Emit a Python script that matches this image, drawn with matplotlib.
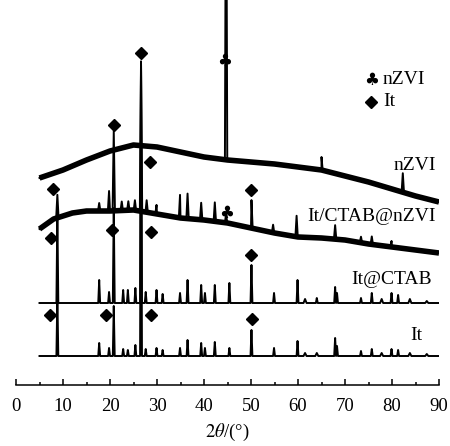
import numpy as np
import matplotlib
matplotlib.use("Agg")
import matplotlib.pyplot as plt

plt.rcParams['font.family'] = ['Liberation Serif', 'DejaVu Sans']
plt.rcParams['mathtext.fontset'] = 'stix'

###########################################################
# data (intensity in arbitrary units, traces offset)

# It
it_bg_x = [5, 90]
it_bg_y = [29, 29]
it_pk_x = [8.8, 17.7, 19.8, 20.8, 22.8, 23.8, 25.4, 26.6, 27.6, 29.9, 31.2, 34.9,
           36.5, 39.4, 40.2, 42.3, 45.4, 50.1, 54.9, 59.9, 61.5, 64.0, 67.9, 68.3,
           73.4, 75.7, 77.8, 79.9, 81.3, 83.8, 87.4]
it_pk_h = [60, 13, 8, 50, 7, 6, 11, 294, 7, 8, 6, 8,
           16, 13, 8, 14, 8, 26, 8, 15, 3, 3, 18, 10,
           5, 7, 3, 7, 6, 3, 2]

# It@CTAB
ctab_bg_x = [5, 90]
ctab_bg_y = [82, 82]
ctab_pk_x = it_pk_x
ctab_pk_h = [90, 23, 11, 95, 13, 13, 15, 241, 11, 13, 9, 10,
             23, 18, 10, 18, 20, 38, 10, 23, 4, 5, 16, 10,
             5, 10, 4, 10, 8, 4, 2]

# It/CTAB@nZVI
mix_bg_x = [5, 8, 12, 15, 20, 25, 30, 35, 40, 45, 50, 55, 60, 65, 70, 75, 80, 85, 90]
mix_bg_y = [156, 166, 172, 174, 174, 175, 171, 167, 165, 162, 157, 152, 148, 147, 145,
            141, 138, 135, 132]
mix_pk_x = [8.8, 17.7, 19.8, 20.8, 22.5, 23.9, 25.3, 26.6, 27.8, 29.9, 34.9, 36.5,
            39.4, 42.3, 44.7, 50.1, 54.7, 59.7, 67.9, 73.4, 75.7, 79.9]
mix_pk_h = [23, 8, 20, 80, 9, 9, 10, 150, 12, 9, 23, 25,
            17, 19, 9, 28, 8, 21, 14, 6, 8, 6]

# nZVI
fe_bg_x = [5, 10, 15, 20, 25, 30, 35, 40, 45, 50, 55, 60, 65, 70, 75, 80, 85, 90]
fe_bg_y = [207, 215, 225, 234, 240, 238, 233, 228, 225, 223, 221, 218, 215, 209,
           203, 196, 189, 183]
fe_pk_x = [44.7, 65.0, 82.3]
fe_pk_h = [360, 13, 19]

# marker positions
it_dia_x = [7.2, 19.1, 28.7, 50.2]
it_dia_y = [70, 70, 70, 66]
ctab_dia_x = [7.4, 20.4, 28.7, 50.1]
ctab_dia_y = [147, 155, 153, 130]
mix_dia_x = [7.9, 20.8, 26.6, 28.5, 50.1]
mix_dia_y = [196, 260, 332, 223, 195]
mix_club_x = [44.8]
mix_club_y = [172]
fe_club_x = [44.3]
fe_club_y = [324]

xticks = [0, 10, 20, 30, 40, 50, 60, 70, 80, 90]
##########################################################


def trace(bg_x, bg_y, pk_x, pk_h, width=0.25):
    # background polyline with triangular peaks sitting on it
    xs = list(bg_x)
    ys = list(bg_y)
    for p, h in zip(pk_x, pk_h):
        w = width if h > 4 else width * 1.6
        for dx, dh in [(-w, 0), (0, h), (w, 0)]:
            xs.append(p + dx)
            ys.append(np.interp(p + dx, bg_x, bg_y) + dh)
    order = np.argsort(xs, kind="stable")
    return np.array(xs)[order], np.array(ys)[order]


fig = plt.figure(figsize=(4.5, 4.46), dpi=100)
ax = fig.add_axes([16 / 450, 1 - 385 / 446, 423 / 450, 385 / 446])

# noisy traces: thick background band + thin peaks
for bx, by, px, ph in [(fe_bg_x, fe_bg_y, fe_pk_x, fe_pk_h),
                       (mix_bg_x, mix_bg_y, mix_pk_x, mix_pk_h)]:
    ax.plot(bx, by, color="black", lw=4, solid_capstyle="butt")
    x, y = trace(bx, by, px, ph)
    ax.plot(x, y, color="black", lw=1.4)

# crystalline traces
for bx, by, px, ph in [(ctab_bg_x, ctab_bg_y, ctab_pk_x, ctab_pk_h),
                       (it_bg_x, it_bg_y, it_pk_x, it_pk_h)]:
    x, y = trace(bx, by, px, ph, width=0.2)
    ax.plot(x, y, color="black", lw=1.4)

# phase markers
for dx, dy in [(it_dia_x, it_dia_y), (ctab_dia_x, ctab_dia_y), (mix_dia_x, mix_dia_y)]:
    ax.plot(dx, dy, ls="none", marker="D", ms=6, color="black")
for cx, cy in [(mix_club_x, mix_club_y), (fe_club_x, fe_club_y)]:
    for x0, y0 in zip(cx, cy):
        ax.text(x0, y0, "\u2663", family="DejaVu Sans", fontsize=12,
                ha="center", va="center")

# sample labels
fs = 14
ax.text(89.4, 220, "nZVI", fontsize=fs, ha="right", va="center")
ax.text(89.4, 169, "It/CTAB@nZVI", fontsize=fs, ha="right", va="center")
ax.text(88.5, 105, "It@CTAB", fontsize=fs, ha="right", va="center")
ax.text(86.4, 49, "It", fontsize=fs, ha="right", va="center")

# legend
ax.text(75.7, 305, "\u2663", family="DejaVu Sans", fontsize=12, ha="center", va="center")
ax.text(78.1, 305, "nZVI", fontsize=fs, ha="left", va="center")
ax.plot([75.5], [283], ls="none", marker="D", ms=6, color="black")
ax.text(78.1, 283, "It", fontsize=fs, ha="left", va="center")

ax.set_xlim(0, 90)
ax.set_ylim(0, 385)
for s in ["top", "left", "right"]:
    ax.spines[s].set_visible(False)
ax.spines["bottom"].set_linewidth(1.1)
ax.set_yticks([])
ax.set_xticks(xticks)
ax.set_xticks(np.arange(5, 90, 10), minor=True)
ax.tick_params(axis="x", which="major", direction="in", length=4, width=1.1,
               pad=9.5, labelsize=13.5)
ax.tick_params(axis="x", which="minor", direction="in", length=2, width=1.1)
ax.set_xlabel(r"$\mathit{2\theta}$/(°)", fontsize=13.5, labelpad=5)
ax.patch.set_visible(False)

fig.savefig("out.png", dpi=100)
